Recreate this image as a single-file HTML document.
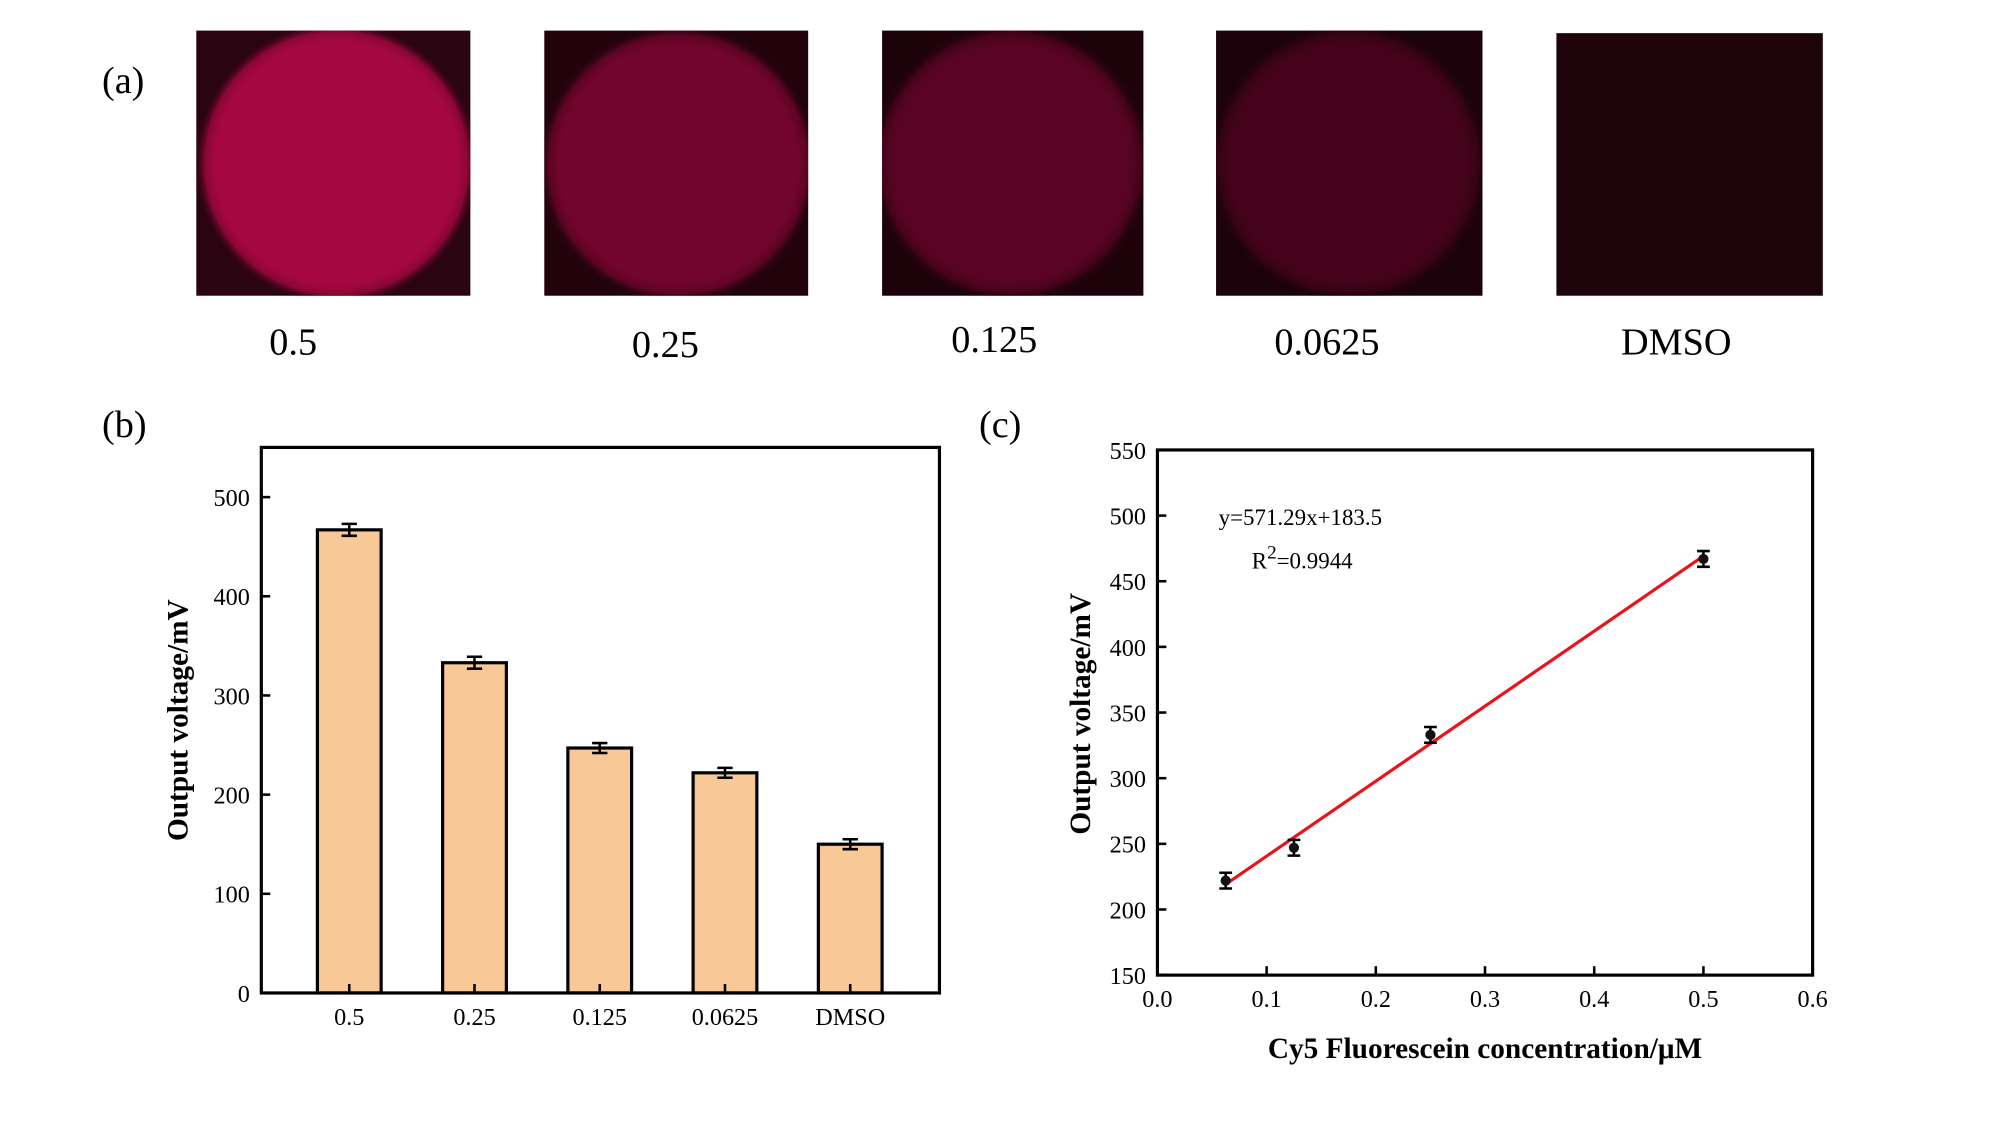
<!DOCTYPE html>
<html><head><meta charset="utf-8">
<style>
html,body{margin:0;padding:0;background:#fff;}
svg{display:block;font-family:"Liberation Serif",serif;}
</style></head>
<body>
<svg id="fig" width="2000" height="1124" viewBox="0 0 1569 881.8" preserveAspectRatio="none" xmlns="http://www.w3.org/2000/svg">
<defs>
<radialGradient id="g1" cx="0.5" cy="0.5" r="0.5"><stop offset="0.85" stop-color="#a5083f"/><stop offset="0.92" stop-color="#8a0636"/><stop offset="1" stop-color="#2a0410" stop-opacity="0"/></radialGradient>
<radialGradient id="g2" cx="0.5" cy="0.5" r="0.5"><stop offset="0.85" stop-color="#72052c"/><stop offset="0.92" stop-color="#5c0424"/><stop offset="1" stop-color="#22030c" stop-opacity="0"/></radialGradient>
<radialGradient id="g3" cx="0.5" cy="0.5" r="0.5"><stop offset="0.85" stop-color="#580422"/><stop offset="0.92" stop-color="#46031b"/><stop offset="1" stop-color="#1e020a" stop-opacity="0"/></radialGradient>
<radialGradient id="g4" cx="0.5" cy="0.5" r="0.5"><stop offset="0.85" stop-color="#44031a"/><stop offset="0.92" stop-color="#360315"/><stop offset="1" stop-color="#1c020a" stop-opacity="0"/></radialGradient>
<clipPath id="c1"><rect x="154" y="24" width="215" height="208"/></clipPath>
<clipPath id="c2"><rect x="427" y="24" width="207" height="208"/></clipPath>
<clipPath id="c3"><rect x="692" y="24" width="205" height="208"/></clipPath>
<clipPath id="c4"><rect x="954" y="24" width="209" height="208"/></clipPath>
</defs>
<g>
<text x="80" y="73" font-size="30">(a)</text>
<rect x="154" y="24" width="215" height="208" fill="#2a0410"/>
<circle clip-path="url(#c1)" cx="264" cy="128" r="112" fill="url(#g1)"/>
<rect x="427" y="24" width="207" height="208" fill="#22030c"/>
<circle clip-path="url(#c2)" cx="532" cy="129" r="110" fill="url(#g2)"/>
<rect x="692" y="24" width="205" height="208" fill="#1e020a"/>
<circle clip-path="url(#c3)" cx="793" cy="128" r="110" fill="url(#g3)"/>
<rect x="954" y="24" width="209" height="208" fill="#1c020a"/>
<circle clip-path="url(#c4)" cx="1058" cy="128" r="110" fill="url(#g4)"/>
<rect x="1221" y="26" width="209" height="206" fill="#1e030a"/>
<g font-size="30" text-anchor="middle">
<text x="230" y="278">0.5</text>
<text x="522" y="280">0.25</text>
<text x="780" y="276">0.125</text>
<text x="1041" y="278">0.0625</text>
<text x="1315" y="278">DMSO</text>
</g>
</g>
<g id="pb">
<text x="80" y="343" font-size="30">(b)</text>
</g>
<g id="pc">
<text x="768" y="343" font-size="30">(c)</text>
</g>
</svg>
<script>
const NS='http://www.w3.org/2000/svg';
const barCategories=['0.5','0.25','0.125','0.0625','DMSO'];
const barValues=[467,333,247,222,150];
const barErrors=[6,6,5,5,5];
const barTicks=[0,100,200,300,400,500];
const scatX=[0.0625,0.125,0.25,0.5];
const scatY=[222,247,333,467];
const scatErr=[6,6,6,6];
const cYTicks=[150,200,250,300,350,400,450,500,550];
const cXTicks=[0,0.1,0.2,0.3,0.4,0.5,0.6];
const fitSlope=571.29, fitIntercept=183.5;

function mk(parent,tag,attrs,text){const e=document.createElementNS(NS,tag);for(const k in attrs)e.setAttribute(k,attrs[k]);if(text!==undefined)e.textContent=text;parent.appendChild(e);return e;}

// Panel b
const pb=document.getElementById('pb');
const bL=205,bR=737,bT=351,bB=779;
const by=v=>bB-(v/500)*(bB-390);
const bx=i=>274+i*98.25;
barValues.forEach((v,i)=>{
  const r=mk(pb,'rect',{x:bx(i)-25,y:by(v),width:50,height:bB-by(v),fill:'#f9c897',stroke:'#000','stroke-width':2.5});
  
  
  const e=mk(pb,'path',{d:`M${bx(i)-6},${by(v+barErrors[i])}H${bx(i)+6}M${bx(i)},${by(v+barErrors[i])}V${by(v-barErrors[i])}M${bx(i)-6},${by(v-barErrors[i])}H${bx(i)+6}`,stroke:'#000','stroke-width':2,fill:'none'});
  
  
  const tk=mk(pb,'line',{x1:bx(i),x2:bx(i),y1:bB,y2:bB-7,stroke:'#000','stroke-width':2});
  
  
  const t=mk(pb,'text',{x:bx(i),y:bB+25,'font-size':19,'text-anchor':'middle'},barCategories[i]);
  
  
});
barTicks.forEach(v=>{
  const l=mk(pb,'line',{x1:bL,x2:bL+7,y1:by(v),y2:by(v),stroke:'#000','stroke-width':2});
  
  
  const t=mk(pb,'text',{x:bL-9,y:by(v)+7,'font-size':19,'text-anchor':'end'},v);
  
  
});
const fb=mk(pb,'rect',{x:bL,y:bT,width:bR-bL,height:bB-bT,fill:'none',stroke:'#000','stroke-width':2.5});


const yb=mk(pb,'text',{x:0,y:0,'font-size':23,'font-weight':'bold','text-anchor':'middle',transform:'translate(147,565) rotate(-90)'},'Output voltage/mV');



// Panel c
const pc=document.getElementById('pc');
const cL=908,cR=1422,cT=353,cB=765;
const cy=v=>cB-(v-150)/400*(cB-cT);
const cx=v=>cL+v/0.6*(cR-cL);
cYTicks.forEach(v=>{
  const l=mk(pc,'line',{x1:cL,x2:cL+7,y1:cy(v),y2:cy(v),stroke:'#000','stroke-width':2});
  
  
  const t=mk(pc,'text',{x:cL-9,y:cy(v)+7,'font-size':19,'text-anchor':'end'},v);
  
  
});
cXTicks.forEach(v=>{
  const l=mk(pc,'line',{x1:cx(v),x2:cx(v),y1:cB,y2:cB-7,stroke:'#000','stroke-width':2});
  
  
  const t=mk(pc,'text',{x:cx(v),y:cB+25,'font-size':19,'text-anchor':'middle'},v.toFixed(1));
  
  
});
const x0=scatX[0],x1=scatX[scatX.length-1];
const fit=mk(pc,'line',{x1:cx(x0),y1:cy(fitSlope*x0+fitIntercept),x2:cx(x1),y2:cy(fitSlope*x1+fitIntercept),stroke:'#e8141c','stroke-width':2.5});


scatX.forEach((xv,i)=>{
  const X=cx(xv),v=scatY[i],er=scatErr[i];
  const e=mk(pc,'path',{d:`M${X-5},${cy(v+er)}H${X+5}M${X},${cy(v+er)}V${cy(v-er)}M${X-5},${cy(v-er)}H${X+5}`,stroke:'#000','stroke-width':2,fill:'none'});
  
  
  const c=mk(pc,'circle',{cx:X,cy:cy(v),r:4,fill:'#111'});
  
  
});
const fc=mk(pc,'rect',{x:cL,y:cT,width:cR-cL,height:cB-cT,fill:'none',stroke:'#000','stroke-width':2.5});


const eq=mk(pc,'text',{x:956,y:412,'font-size':18},'y=571.29x+183.5');


const r2=mk(pc,'text',{x:982,y:446,'font-size':18});


r2.innerHTML='R<tspan dy="-8" font-size="15">2</tspan><tspan dy="8">=0.9944</tspan>';
const yc=mk(pc,'text',{x:0,y:0,'font-size':23,'font-weight':'bold','text-anchor':'middle',transform:'translate(855,560) rotate(-90)'},'Output voltage/mV');


const xc=mk(pc,'text',{x:1165,y:830,'font-size':23,'font-weight':'bold','text-anchor':'middle'},'Cy5 Fluorescein concentration/μM');


</script>
</body></html>
